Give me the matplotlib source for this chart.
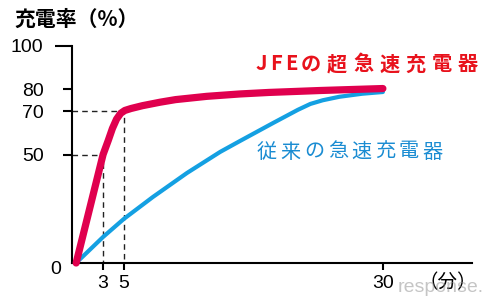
import matplotlib
matplotlib.use("Agg")
import matplotlib.pyplot as plt

# 充電時間（分）と充電率（%）
jfe_min = [0.4, 3.0, 3.5, 3.9, 4.3, 4.7, 5.1, 5.7, 6.8, 8.5, 10.0, 13.0, 16.2, 19.0, 24.0, 30.0]
jfe_pct = [0.0, 50.0, 56.5, 62.0, 66.3, 69.0, 70.3, 71.2, 72.5, 74.1, 75.3, 76.8, 77.9, 78.6, 79.5, 80.4]

old_min = [0.5, 3.0, 5.0, 7.8, 11.1, 14.3, 16.2, 19.4, 21.8, 23.0, 24.2, 25.8, 28.0, 30.0]
old_pct = [0.5, 12.0, 20.3, 30.4, 41.5, 51.2, 56.2, 64.5, 70.6, 73.3, 75.0, 76.6, 78.0, 78.8]

y_ticks = [50, 70, 80, 100]
x_ticks = [3, 5, 30]

W, H = 500, 302
CJK = ["Noto Sans CJK JP", "DejaVu Sans"]
LAT = ["Liberation Sans", "DejaVu Sans"]


def spaced_text(fig, x, y, s, spacing, **kw):
    # 文字間を広げて1文字ずつ置く（x, y はピクセル、上から）
    r = fig.canvas.get_renderer()
    for ch in s:
        t = fig.text(x / W, 1 - y / H, ch, ha="left", va="center", **kw)
        gap = spacing if ord(ch) > 255 else spacing * 0.5
        x += t.get_window_extent(r).width + gap


fig = plt.figure(figsize=(5, 3.02), dpi=100)
ax = fig.add_axes([72 / W, 39 / H, 400 / W, 217 / H])
ax.set_xlim(0, 38.6)
ax.set_ylim(0, 100)

for side in ["top", "right"]:
    ax.spines[side].set_visible(False)
for side in ["left", "bottom"]:
    ax.spines[side].set_linewidth(1.5)
    ax.spines[side].set_color("black")

# 補助線
ax.plot([0, 5, 5], [70, 70, 0], color="#222222", lw=1.0, ls=(0, (4, 3)), zorder=1)
ax.plot([0, 3, 3], [50, 50, 0], color="#222222", lw=1.0, ls=(0, (4, 3)), zorder=1)

ax.plot(old_min, old_pct, color="#14a0e2", lw=3.0, solid_capstyle="round",
        solid_joinstyle="round", clip_on=False, zorder=2)
ax.plot(jfe_min, jfe_pct, color="#e0004e", lw=5.2, solid_capstyle="round",
        solid_joinstyle="round", clip_on=False, zorder=3)

ax.set_yticks(y_ticks)
ax.set_yticklabels([str(v) for v in y_ticks], family=LAT, fontsize=14)
ax.tick_params(axis="y", direction="out", length=6.5, width=1.5, pad=14)
ax.yaxis.get_major_ticks()[-1].tick1line.set_markersize(12)

ax.set_xticks(x_ticks)
ax.set_xticklabels([str(v) for v in x_ticks], family=LAT, fontsize=14)
ax.tick_params(axis="x", direction="out", length=5, width=1.5, pad=4)

fig.text(56 / W, 1 - 270 / H, "0", family=LAT, fontsize=14, ha="center", va="center")
fig.text(14 / W, 1 - 19 / H, "充電率（%）", family=CJK, fontsize=15,
         fontweight="bold", ha="left", va="center")
fig.text(418 / W, 1 - 283 / H, "（分）", family=CJK, fontsize=14,
         ha="left", va="center")
fig.text(398 / W, 1 - 287 / H, "response.", family=LAT, fontsize=14,
         color="#8c8c8c", alpha=0.5, ha="left", va="center")

spaced_text(fig, 256, 64, "JFEの超急速充電器", 6, family=CJK, fontsize=14.5,
            color="#e8121c", fontweight="bold")
spaced_text(fig, 257, 152, "従来の急速充電器", 3.5, family=CJK, fontsize=14.5,
            color="#1a8cd2")

fig.savefig("out.png", dpi=100)
